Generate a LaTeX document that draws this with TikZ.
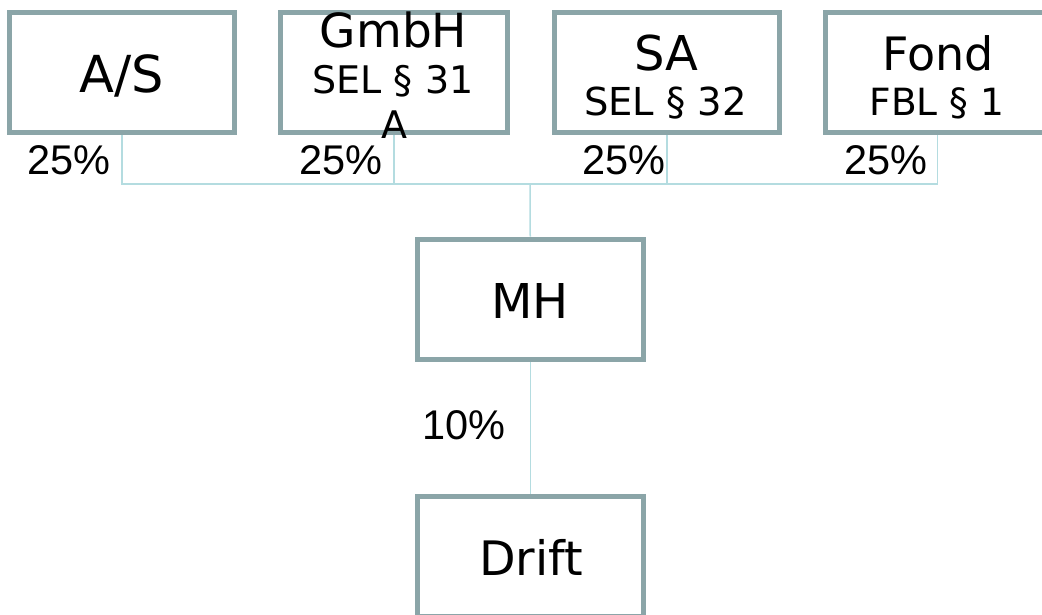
\documentclass[tikz,border=0pt]{standalone}
\usepackage{fontspec}
\newfontfamily\vfont{DejaVu Sans}
\newfontfamily\afont{Liberation Sans}
\definecolor{boxc}{HTML}{8BA5A8}
\definecolor{connc}{HTML}{B4DCE0}
\tikzset{
  entity/.style={draw=boxc, line width=5pt, rectangle, inner sep=0pt, minimum height=120pt},
  conn/.style={draw=connc, line width=1.5pt},
  txt/.style={inner sep=0pt, anchor=base, text=black},
  pct/.style={inner sep=0pt, anchor=base west, text=black, font=\afont\fontsize{41.5}{46}\selectfont},
}
\begin{document}
\begin{tikzpicture}[x=1pt, y=-1pt]
\useasboundingbox (0,0) rectangle (1042,614);
\clip (0,0) rectangle (1042,614);
% boxes
\node[entity, minimum width=225pt] (as) at (122,72.5) {};
\node[entity, minimum width=227pt] (gmbh) at (394,72.5) {};
\node[entity, minimum width=225.5pt] (sa) at (666.75,72.5) {};
\node[entity, minimum width=225pt] (fond) at (937.5,72.5) {};
\node[entity, minimum width=226.5pt, minimum height=120.5pt] (mh) at (530.25,299.25) {};
\node[entity, minimum width=226.5pt] (drift) at (530.25,556.5) {};
\coordinate (hub) at (530,184);
% connectors
\draw[conn] (as.south) -- (as.south |- hub) -- (fond.south |- hub) -- (fond.south);
\draw[conn] (gmbh.south) -- (gmbh.south |- hub);
\draw[conn] (sa.south) -- (sa.south |- hub);
\draw[conn] (mh.north) -- (hub);
\draw[conn] (mh.south) -- (drift.north);
% texts
\node[txt, font=\vfont\fontsize{51}{56}\selectfont] (tas) at (122,92) {A/S};
\node[txt, font=\vfont\fontsize{47}{50}\selectfont] (tgmbh) at (393.5,47) {GmbH};
\node[txt, font=\vfont\fontsize{38}{42}\selectfont] (sgmbh) at (393,93) {SEL § 31};
\node[txt, font=\vfont\fontsize{38}{42}\selectfont] (agmbh) at (394.5,138) {A};
\node[txt, font=\vfont\fontsize{48}{52}\selectfont] (tsa) at (666.5,70) {SA};
\node[txt, font=\vfont\fontsize{38.5}{42}\selectfont] (ssa) at (665.5,115) {SEL § 32};
\node[txt, font=\vfont\fontsize{46}{50}\selectfont] (tfond) at (938,70) {Fond};
\node[txt, font=\vfont\fontsize{37.5}{42}\selectfont] (sfond) at (937,115) {FBL § 1};
\node[txt, font=\vfont\fontsize{48}{52}\selectfont] (tmh) at (530,318) {MH};
\node[txt, font=\vfont\fontsize{47.5}{52}\selectfont] (tdrift) at (531,575) {Drift};
\node[pct] (p1) at (27,174) {25\%};
\node[pct] (p2) at (299,174) {25\%};
\node[pct] (p3) at (582,174) {25\%};
\node[pct] (p4) at (844,174) {25\%};
\node[pct] (p5) at (422,439) {10\%};
\end{tikzpicture}
\end{document}
